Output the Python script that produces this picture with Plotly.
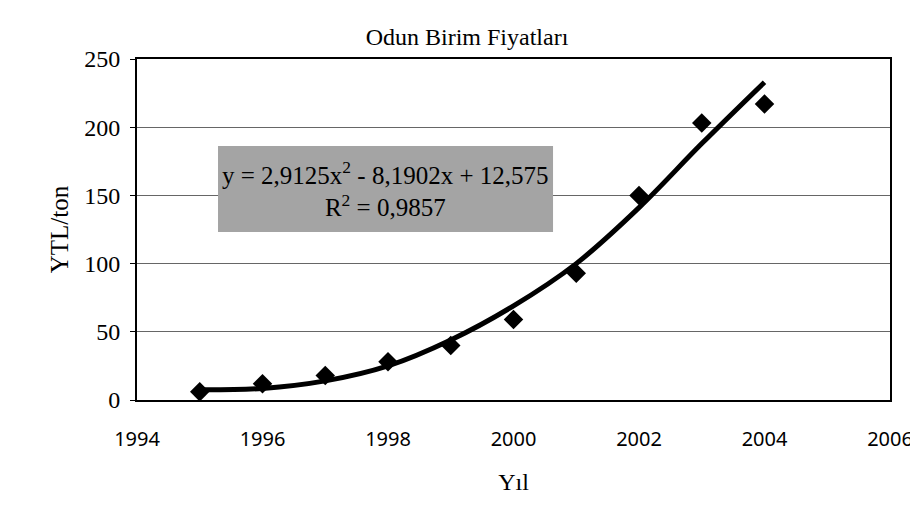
import plotly.graph_objects as go

# data
years = [1995, 1996, 1997, 1998, 1999, 2000, 2001, 2002, 2003, 2004]
prices = [6, 12, 18, 28, 40, 59, 93, 150, 203, 217]
# polynomial trendline as drawn in the chart
trend = [7.5, 8.5, 14, 25, 44, 69, 100, 141, 188, 233]

equation = "y = 2,9125x<sup>2</sup> - 8,1902x + 12,575<br>R<sup>2</sup> = 0,9857"

fig = go.Figure()
fig.add_trace(go.Scatter(x=years, y=trend, mode="lines", line=dict(color="black", width=5, shape="spline"),
                         showlegend=False, hoverinfo="skip"))
fig.add_trace(go.Scatter(x=years, y=prices, mode="markers",
                         marker=dict(symbol="diamond", size=15, color="black"), showlegend=False))

# equation box
fig.add_shape(type="rect", xref="paper", yref="paper", x0=0.1076, x1=0.5525, y0=0.4927, y1=0.745,
              fillcolor="#a4a4a4", line=dict(width=0), layer="above")
fig.add_annotation(xref="paper", yref="paper", x=0.33, y=0.619, xanchor="center", yanchor="middle",
                   text=equation, showarrow=False, align="center",
                   font=dict(family="Liberation Serif", size=25, color="black"))

fig.update_layout(
    width=918, height=526,
    paper_bgcolor="white", plot_bgcolor="white",
    margin=dict(l=129, r=36, t=51, b=134),
    title=dict(text="Odun Birim Fiyatları", x=0.5, xanchor="center", y=0.945, yanchor="middle",
               font=dict(family="Liberation Serif", size=24, color="black")),
    font=dict(family="Liberation Serif", color="black"),
)
fig.update_xaxes(range=[1994, 2006], tickvals=[1994, 1996, 1998, 2000, 2002, 2004, 2006],
                 showgrid=False, zeroline=False, showline=True, linecolor="black", linewidth=2, mirror=True,
                 ticks="", ticklabelstandoff=20, tickfont=dict(family="Noto Sans", size=20, color="black"),
                 title=dict(text="Yıl", font=dict(family="Liberation Serif", size=24), standoff=22))
fig.update_yaxes(range=[0, 250], tickvals=[0, 50, 100, 150, 200, 250],
                 showgrid=True, gridcolor="#666", gridwidth=1, zeroline=False,
                 showline=True, linecolor="black", linewidth=2, mirror=True,
                 ticks="outside", ticklen=5, tickcolor="black", ticklabelstandoff=5,
                 tickfont=dict(family="Liberation Serif", size=24, color="black"),
                 title=dict(text="YTL/ton", font=dict(family="Liberation Serif", size=25), standoff=8))

fig.write_html("out.html")
